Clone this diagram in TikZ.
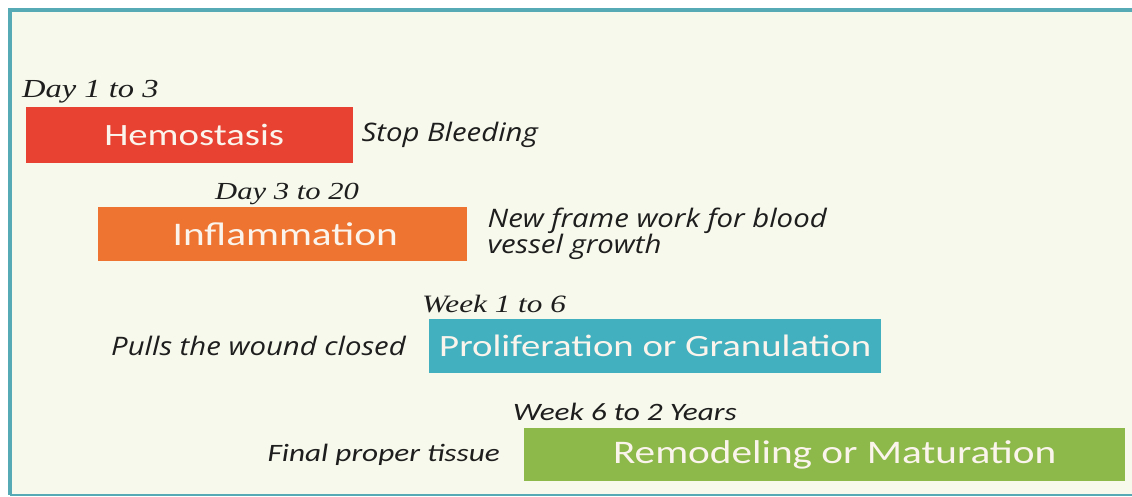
\documentclass[tikz,border=0pt]{standalone}
\usepackage{fontspec}
\usetikzlibrary{positioning}
\newfontfamily\phasefont[FakeStretch=1.25]{Carlito}
\newfontfamily\calnotefont[FakeStretch=1.25]{Carlito}
\newfontfamily\notefont[FakeStretch=1.15]{Open Sans}
\newfontfamily\timefont[FakeStretch=1.25]{Liberation Serif}
\definecolor{hemored}{RGB}{232,67,50}
\definecolor{inflorange}{RGB}{238,116,49}
\definecolor{prolifteal}{RGB}{66,176,191}
\definecolor{remodgreen}{RGB}{141,184,74}
\definecolor{frameteal}{RGB}{85,170,181}
\definecolor{creamcolor}{RGB}{247,249,236}
\definecolor{phasetext}{RGB}{250,244,236}
\definecolor{notetext}{RGB}{30,30,30}

\tikzset{
  phase/.style={rectangle, inner sep=0pt, anchor=north west, text=phasetext,
    font=\phasefont\fontsize{31}{31}\selectfont},
  timelabel/.style={inner sep=0pt, anchor=base west, text=notetext,
    font=\timefont\itshape\fontsize{26}{26}\selectfont},
  note/.style={inner sep=0pt, align=left, text=notetext,
    font=\notefont\itshape\fontsize{25.5}{26}\selectfont},
  calnote/.style={inner sep=0pt, align=left, text=notetext,
    font=\calnotefont\itshape\fontsize{25}{25}\selectfont}
}

\begin{document}
\begin{tikzpicture}[x=1pt, y=-1pt]
\useasboundingbox (0,0) rectangle (1132,497);

% Background and frame
\fill[white] (-2,-2) rectangle (1140,500);
\fill[creamcolor] (10,10) rectangle (1140,495);
\draw[frameteal, line width=4pt] (1140,10) -- (10,10) -- (10,495);
\draw[frameteal, line width=2.5pt] (10,495) -- (1140,495);

% Phases
\node[phase, fill=hemored, minimum width=327pt, minimum height=56pt] (hemo) at (26,107) {\hspace*{9pt}Hemostasis};
\node[phase, fill=inflorange, minimum width=369pt, minimum height=54pt,
  font=\phasefont\fontsize{33}{33}\selectfont] (infl) at (98,207) {\hspace*{5pt}Inflammation};
\node[phase, fill=prolifteal, minimum width=452pt, minimum height=54pt] (prolif) at (429,319) {Proliferation or Granulation};
\node[phase, fill=remodgreen, minimum width=601pt, minimum height=53pt,
  font=\phasefont\fontsize{33}{33}\selectfont] (remod) at (524,428) {\hspace*{20pt}Remodeling or Maturation};

% Time spans
\node[timelabel] (hemotime) at ([shift={(-4,-9)}]hemo.north west) {Day 1 to 3};
\node[timelabel, font=\timefont\itshape\fontsize{24.5}{24.5}\selectfont] (infltime) at ([shift={(117,-7)}]infl.north west) {Day 3 to 20};
\node[timelabel, font=\timefont\itshape\fontsize{25}{25}\selectfont] (proliftime) at ([shift={(-7,-7)}]prolif.north west) {Week 1 to 6};
\node[calnote, anchor=base west] (remodtime) at ([shift={(-11,-8)}]remod.north west) {Week 6 to 2 Years};

% What each phase does
\node[note, right=8pt of hemo] (hemonote) {Stop Bleeding};
\node[note, right=20pt of infl] (inflnote) {New frame work for blood\\vessel growth};
\node[note, left=23pt of prolif] (prolifnote) {Pulls the wound closed};
\node[calnote, left=24pt of remod] (remodnote) {Final proper tissue};
\end{tikzpicture}
\end{document}
